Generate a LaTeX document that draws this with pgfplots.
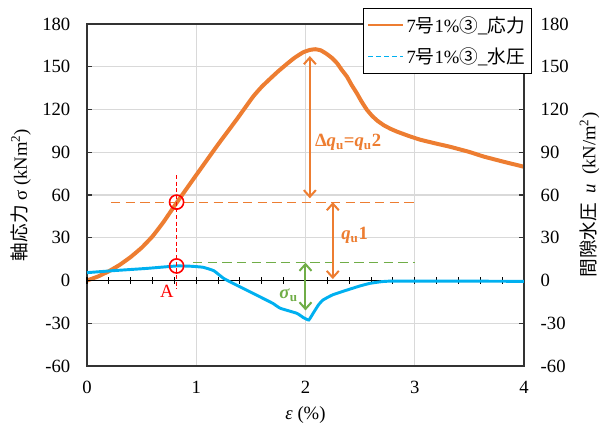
\documentclass[border=0pt]{standalone}
\usepackage{pgfplots}
\pgfplotsset{compat=1.18}
\usetikzlibrary{arrows.meta}
\usepackage{fontspec}
\setmainfont{Liberation Serif}
\newfontfamily\cjk{Noto Sans CJK JP}

\definecolor{stressorange}{RGB}{237,125,49}
\definecolor{porecyan}{RGB}{0,176,240}
\definecolor{annotgreen}{RGB}{112,173,71}
\definecolor{markred}{RGB}{255,0,0}
\definecolor{gridgray}{RGB}{217,217,217}

% axial stress (kN/m^2) against axial strain (%)
\pgfplotstableread{
x y
0.00 0.0
0.10 2.8
0.20 6.5
0.30 11.0
0.40 16.5
0.50 23.0
0.60 31.0
0.70 41.0
0.82 54.5
1.00 74.0
1.20 95.5
1.37 113.0
1.52 129.0
1.60 136.0
1.675 141.5
1.75 146.8
1.83 152.0
1.90 156.3
1.98 160.2
2.04 161.8
2.09 162.3
2.14 161.5
2.19 159.2
2.24 156.3
2.29 152.4
2.33 148.0
2.38 143.0
2.42 137.5
2.47 131.4
2.51 126.0
2.56 120.0
2.61 115.5
2.66 112.0
2.72 108.8
2.78 106.4
2.84 104.4
2.95 101.3
3.05 98.8
3.20 96.0
3.32 93.9
3.50 90.2
3.63 87.0
3.80 83.6
4.00 79.8
}\stresstable

% pore water pressure (kN/m^2) against axial strain (%)
\pgfplotstableread{
x y
0.00 5.5
0.24 6.9
0.55 8.5
0.82 10.2
0.95 10.0
1.06 9.3
1.16 6.9
1.25 1.5
1.35 -2.5
1.46 -6.7
1.61 -12.5
1.70 -16.0
1.77 -19.5
1.92 -23.0
1.98 -26.0
2.03 -27.7
2.07 -23.0
2.12 -17.0
2.16 -13.7
2.25 -10.0
2.38 -6.7
2.50 -3.8
2.59 -2.0
2.70 -0.8
2.80 -0.4
3.29 -0.4
4.00 -0.6
}\poretable

\pgfplotsset{
  common/.style={
    at={(0,0)}, anchor=south west,
    scale only axis, width=327.75pt, height=256.5pt,
    xmin=0, xmax=4, ymin=-60, ymax=180,
    /pgf/number format/assume math mode=true,
  },
}

\begin{document}
\begin{tikzpicture}[font=\fontsize{14}{17}\selectfont]
\useasboundingbox (-65.25pt,-46.5pt) rectangle (390.75pt,274.5pt);

% frame, grid, left axis and the stress curve
\begin{axis}[common,
  xtick={0,1,2,3,4},
  ytick={-60,-30,0,30,60,90,120,150,180},
  ytick pos=left,
  tick align=inside,
  major tick length=4pt,
  xtick style={draw=none},
  ytick style={black!80, line width=0.8pt},
  grid=major,
  major grid style={draw=gridgray, line width=1pt},
  axis line style={draw=black!80, line width=1.1pt},
  xticklabel style={yshift=-8pt},
  yticklabel style={xshift=-9pt},
  xlabel={\textit{ε} (\%)},
  xlabel style={at={(axis description cs:0.5,-0.144)}, anchor=center},
  ylabel={{\cjk 軸応力} σ (kNm\textsuperscript{2})},
  ylabel style={at={(axis description cs:-0.151,0.5)}, anchor=center, rotate=0},
]
\addplot[stressorange, line width=3pt, smooth, tension=0.2] table {\stresstable};
\end{axis}

% strain axis at zero with crossing ticks
\begin{axis}[common,
  axis x line*=middle, axis y line=none,
  xtick={0,0.2,0.4,0.6,0.8,1,1.2,1.4,1.6,1.8,2,2.2,2.4,2.6,2.8,3,3.2,3.4,3.6,3.8,4},
  xticklabels={}, ytick=\empty,
  tick align=center, major tick length=5pt,
  x axis line style={black, line width=0.9pt},
  xtick style={black, line width=0.8pt},
]
\end{axis}

% right axis, pore pressure curve, annotations and legend
\begin{axis}[common,
  axis y line*=right, axis x line=none,
  ytick={-60,-30,0,30,60,90,120,150,180},
  tick align=inside, major tick length=4pt,
  ytick style={black!80, line width=0.8pt},
  y axis line style={draw=black!80, line width=1.1pt},
  yticklabel style={xshift=9pt},
  ylabel={{\cjk 間隙水圧}\ \ \textit{u}\ \ (kN/m\textsuperscript{2})},
  ylabel style={at={(axis description cs:1.150,0.5)}, anchor=center},
  legend style={at={(rel axis cs:1.018,1.047)}, anchor=north east,
    draw=black, line width=0.6pt, fill=white,
    inner xsep=3pt, inner ysep=4pt, row sep=6pt,
    cells={anchor=west},
    font=\fontsize{14}{17}\selectfont},
  legend image code/.code={\draw[#1] (0pt,0pt) -- (26pt,0pt);},
]
\addplot[porecyan, line width=2.2pt, smooth, tension=0.25, forget plot] table {\poretable};

% reference levels
\addplot[stressorange, line width=0.9pt, dash pattern=on 7pt off 4pt, forget plot] coordinates {(0.22,55) (3.0,55)};
\addplot[annotgreen, line width=0.9pt, dash pattern=on 7pt off 4pt, forget plot] coordinates {(0.97,12.5) (3.0,12.5)};
\addplot[markred, line width=0.9pt, dash pattern=on 3pt off 2pt, forget plot] coordinates {(0.82,74) (0.82,-6)};

% point A on both curves
\addplot[markred, only marks, mark=o, mark size=5.3pt, mark options={line width=1.2pt}, forget plot] coordinates {(0.82,55) (0.82,10.2)};

% strength components
\addplot[stressorange, line width=1.5pt, {Straight Barb[length=5pt,width=9pt]}-{Straight Barb[length=5pt,width=9pt]}, forget plot] coordinates {(2.04,57.7) (2.04,157.5)};
\addplot[stressorange, line width=1.5pt, {Straight Barb[length=5pt,width=9pt]}-{Straight Barb[length=5pt,width=9pt]}, forget plot] coordinates {(2.25,1) (2.25,55)};
\addplot[annotgreen, line width=1.5pt, {Straight Barb[length=5pt,width=9pt]}-{Straight Barb[length=5pt,width=9pt]}, forget plot] coordinates {(2.0,-21) (2.0,12.5)};

\node[text=stressorange, font=\fontsize{14}{17}\selectfont\bfseries] at (axis cs:2.39,96.8) {Δ\textit{q}\textsubscript{u}=\textit{q}\textsubscript{u}2};
\node[text=stressorange, font=\fontsize{14}{17}\selectfont\bfseries] at (axis cs:2.45,31.9) {\textit{q}\textsubscript{u}1};
\node[text=annotgreen, font=\fontsize{14}{17}\selectfont\bfseries] at (axis cs:1.845,-10.2) {\textit{σ}\textsubscript{u}};
\node[text=markred] at (axis cs:0.73,-7.4) {A};

\addlegendimage{stressorange, line width=1.5pt}
\addlegendentry{7{\cjk 号}1\%{\cjk ③}\_{\cjk 応力}}
\addlegendimage{porecyan, line width=0.9pt, dash pattern=on 3.5pt off 2.5pt}
\addlegendentry{7{\cjk 号}1\%{\cjk ③}\_{\cjk 水圧}}
\end{axis}
\end{tikzpicture}
\end{document}
